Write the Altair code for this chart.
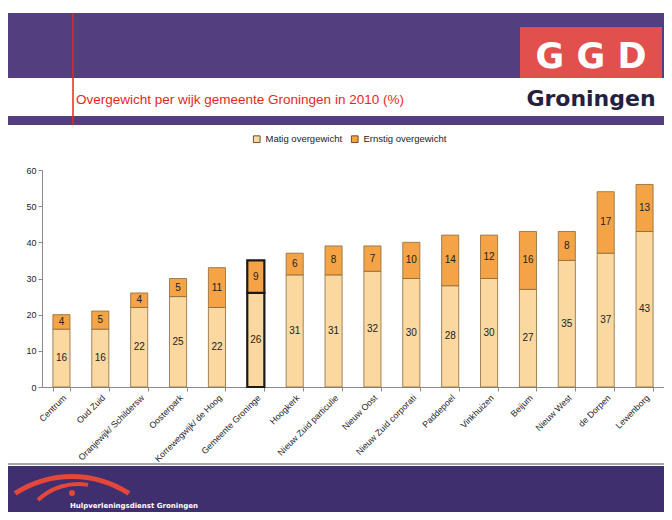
import altair as alt
import pandas as pd

# ---- data ----
wijken = ["Centrum", "Oud Zuid", "Oranjewijk/ Schildersw", "Oosterpark",
          "Korrewegwijk/ de Hoog", "Gemeente Groninge", "Hoogkerk",
          "Nieuw Zuid particulie", "Nieuw Oost", "Nieuw Zuid corporati",
          "Paddepoel", "Vinkhuizen", "Beijum", "Nieuw West", "de Dorpen",
          "Lewenborg"]
matig = [16, 16, 22, 25, 22, 26, 31, 31, 32, 30, 28, 30, 27, 35, 37, 43]
ernstig = [4, 5, 4, 5, 11, 9, 6, 8, 7, 10, 14, 12, 16, 8, 17, 13]
reeksen = ["Matig overgewicht", "Ernstig overgewicht"]
gemeente = "Gemeente Groninge"
y_ticks = [0, 10, 20, 30, 40, 50, 60]

title_text = "Overgewicht per wijk gemeente Groningen in 2010 (%)"
logo_top = "G G D"
logo_bottom = "Groningen"
footer_text = "Hulpverleningsdienst Groningen"

rows = []
for i, w in enumerate(wijken):
    rows.append({"wijk": w, "reeks": reeksen[0], "waarde": matig[i], "ord": 0, "gem": w == gemeente})
    rows.append({"wijk": w, "reeks": reeksen[1], "waarde": ernstig[i], "ord": 1, "gem": w == gemeente})
df = pd.DataFrame(rows)

PURPLE = "#533E80"
PURPLE_DARK = "#3F2F6E"
RED = "#E8261C"
FONT = "Liberation Sans"

x_scale = alt.Scale(paddingInner=0.56, paddingOuter=0.28)
y_scale = alt.Scale(domain=[0, 60], nice=False)
x_axis = alt.Axis(title=None, labelAngle=-45, labelFontSize=8.8,
                  labelFont=FONT, labelColor="#222",
                  tickBand="extent", tickSize=4, labelPadding=2,
                  domainColor="#8a8a8a", tickColor="#8a8a8a",
                  labelLimit=200, labelOverlap=False)
y_axis = alt.Axis(title=None, values=y_ticks, grid=False,
                  labelFontSize=9, labelFont=FONT, labelColor="#222",
                  tickSize=4, labelPadding=2, labelOverlap=False,
                  labelFlush=False,
                  domainColor="#8a8a8a", tickColor="#8a8a8a")

bars = alt.Chart(df).mark_bar().encode(
    x=alt.X("wijk:N", sort=wijken, scale=x_scale, axis=x_axis),
    y=alt.Y("waarde:Q", stack="zero", scale=y_scale, axis=y_axis),
    color=alt.Color("reeks:N",
                    scale=alt.Scale(domain=reeksen, range=["#FAD8A0", "#F4A446"]),
                    legend=alt.Legend(title=None, orient="none", legendX=210,
                                      legendY=-36, direction="horizontal",
                                      symbolType="square", symbolSize=45,
                                      symbolStrokeColor="#6b5030",
                                      symbolStrokeWidth=1,
                                      labelFontSize=9.5, labelFont=FONT,
                                      labelColor="#222", columnPadding=6,
                                      padding=0)),
    order=alt.Order("ord:Q"),
    stroke=alt.condition("datum.gem", alt.value("#1a1a1a"), alt.value("#8a6a3a")),
    strokeWidth=alt.condition("datum.gem", alt.value(2.2), alt.value(0.8)),
)

labels = alt.Chart(df).transform_stack(
    stack="waarde", groupby=["wijk"], as_=["y0", "y1"],
    sort=[alt.SortField("ord", order="ascending")]
).transform_calculate(
    mid="(datum.y0 + datum.y1) / 2"
).mark_text(fontSize=10, font=FONT, color="#222").encode(
    x=alt.X("wijk:N", sort=wijken, scale=x_scale, axis=x_axis),
    y=alt.Y("mid:Q", scale=y_scale, axis=y_axis),
    text=alt.Text("waarde:Q"),
)

one = pd.DataFrame({"k": [0]})

def rect(x1, x2, y1, y2, color):
    return alt.Chart(one).mark_rect(color=color).encode(
        x=alt.value(x1), x2=alt.value(x2), y=alt.value(y1), y2=alt.value(y2))

header_top = rect(-34, 622, -157, -92, PURPLE)
header_strip = rect(-34, 622, -54, -45, PURPLE)
footer = rect(-34, 622, 296, 342, PURPLE_DARK)
logo_box = rect(478, 620, -143, -92, "#E1504D")

red_line = alt.Chart(one).mark_rule(color=RED, strokeWidth=1.5).encode(
    x=alt.value(31), y=alt.value(-157), y2=alt.value(-45))
bottom_line = alt.Chart(one).mark_rule(color="#8a8a8a", strokeWidth=1.5).encode(
    x=alt.value(-34), x2=alt.value(622), y=alt.value(294))

title = alt.Chart(one).mark_text(text=title_text, align="left", baseline="alphabetic",
                                 font=FONT, fontSize=13.5, color=RED).encode(
    x=alt.value(34), y=alt.value(-66))
ggd = alt.Chart(one).mark_text(text=logo_top, align="center", baseline="alphabetic",
                               font="DejaVu Sans", fontWeight="bold", fontSize=35,
                               color="white").encode(
    x=alt.value(549), y=alt.value(-102))
gron = alt.Chart(one).mark_text(text=logo_bottom, align="center", baseline="alphabetic",
                                font="DejaVu Sans", fontWeight="bold", fontSize=22,
                                color="#23213F").encode(
    x=alt.value(549), y=alt.value(-64))

arc_outer = alt.Chart(one).mark_arc(color="#E2473A", radius=107, radius2=102,
                                    theta=5.707, theta2=6.859).encode(
    x=alt.value(30), y=alt.value(411))
arc_inner = alt.Chart(one).mark_arc(color="#E2473A", radius=60, radius2=56,
                                    theta=5.522, theta2=6.458).encode(
    x=alt.value(36), y=alt.value(372))
dot = alt.Chart(one).mark_circle(color="#E2473A", opacity=1, size=36).encode(
    x=alt.value(30), y=alt.value(323))
footer_txt = alt.Chart(one).mark_text(text=footer_text, align="left", baseline="alphabetic",
                                      font="DejaVu Sans", fontWeight="bold", fontSize=7,
                                      color="white").encode(
    x=alt.value(28), y=alt.value(338))

chart = alt.layer(
    header_top, header_strip, footer, logo_box, red_line, bottom_line,
    title, ggd, gron, arc_outer, arc_inner, dot, footer_txt,
    bars, labels
).properties(
    width=622, height=217,
    autosize=alt.AutoSizeParams(type="none"),
    padding={"left": 34, "top": 162, "right": 0, "bottom": 125},
    background="white",
).configure_view(stroke=None)

chart.save("out.html", embed_options={"renderer": "svg", "actions": False})
